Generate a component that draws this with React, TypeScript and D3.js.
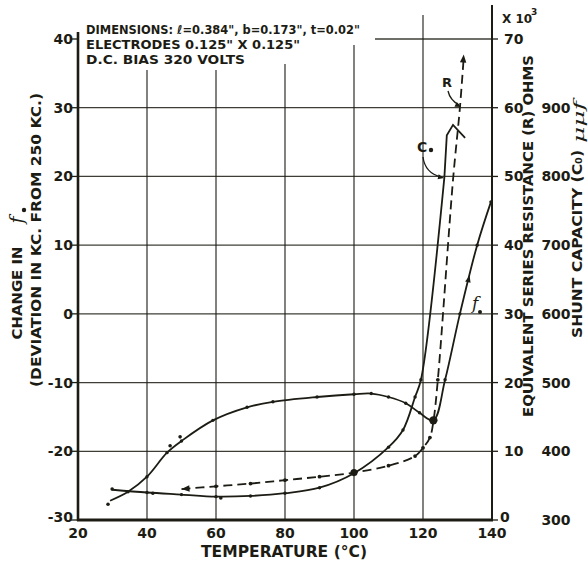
import React from 'react';
import * as d3 from 'd3';

// ---------- data ----------
const xTicks = [20, 40, 60, 80, 100, 120, 140];
const leftTicks = [-30, -20, -10, 0, 10, 20, 30, 40];
const rTicks = [0, 10, 20, 30, 40, 50, 60, 70];
const cTicks = [300, 400, 500, 600, 700, 800, 900];

// change in f0 (kc) vs temperature
const f0Temp = [29.3, 34.5, 40, 45.8, 50, 59.1, 69, 76.5, 89.3, 100, 105, 110, 115, 119, 123, 126.4, 130.7, 135.7, 139.7];
const f0Dev = [-27.2, -25.9, -23.7, -20.2, -18.5, -15.5, -13.6, -12.8, -12.1, -11.7, -11.6, -12.1, -13.0, -14.4, -15.5, -9.6, 0, 10, 16.3];
const f0ExtraTemp = [28.7, 46.7, 49.6];
const f0ExtraDev = [-27.7, -19.2, -17.9];

// shunt capacity C0 (uuf)
const c0Temp = [30, 40, 50, 60, 70, 80, 90, 100, 110, 114.2, 117.7, 119.4, 126.2, 126.9, 128.7, 132.2];
const c0Cap = [344, 340, 337, 334, 335, 339, 347, 368, 406, 431, 479, 504, 799, 860, 875, 856];
const c0ExtraTemp = [29.9, 41.7, 61.4];
const c0ExtraCap = [345, 339, 332];

// equivalent series resistance R (x10^3 ohms)
const rTemp = [50, 60, 70, 80, 90, 100, 110, 117.7, 120, 122, 123, 124.3, 128.7, 130.7, 131.8];
const rOhm = [4.5, 4.9, 5.3, 5.8, 6.3, 6.9, 7.9, 9.3, 10.5, 12.0, 14.3, 20.4, 49.5, 60, 67.3];

// ---------- layout ----------
const W = 588, H = 562;
const INK = '#1c1c14';
const FONT = "'DejaVu Sans', sans-serif";

const x = d3.scaleLinear().domain([20, 140]).range([78, 492]);
const yL = d3.scaleLinear().domain([-30, 40]).range([520, 39]);
const yR = d3.scaleLinear().domain([0, 70]).range([520, 39]);
const yC = d3.scaleLinear().domain([300, 1000]).range([520, 39]);

function arrowHead(px: number, py: number, dx: number, dy: number, size = 8, w = 3.2) {
  const len = Math.hypot(dx, dy);
  const ux = dx / len, uy = dy / len;
  const bx = px - ux * size, by = py - uy * size;
  return `M${px},${py}L${bx - uy * w},${by + ux * w}L${bx + uy * w},${by - ux * w}Z`;
}

export default function App() {
  const zip = (a: number[], b: number[]) => a.map((v, i) => [v, b[i]] as [number, number]);
  const f0Pts = zip(f0Temp, f0Dev);
  const c0Pts = zip(c0Temp, c0Cap);
  const rPts = zip(rTemp, rOhm);

  const mk = (sy: d3.ScaleLinear<number, number>, curve: d3.CurveFactory = d3.curveCatmullRom.alpha(0.5)) =>
    d3.line<[number, number]>().x(d => x(d[0])).y(d => sy(d[1])).curve(curve);

  const f0Path = mk(yL)(f0Pts) || '';
  const c0Path = (mk(yC)(c0Pts.slice(0, 13)) || '') + (mk(yC, d3.curveLinear)(c0Pts.slice(12)) || '').replace(/^M/, 'L');
  const rPath = mk(yR)(rPts) || '';

  const vTop: Record<number, number> = { 40: 70, 60: 70, 80: 64, 100: 45, 120: 15 };

  // arrows
  const rStartArrow = arrowHead(x(rTemp[0]), yR(rOhm[0]), x(rTemp[0]) - x(rTemp[1]), yR(rOhm[0]) - yR(rOhm[1]));
  const nR = rTemp.length;
  const rEndArrow = arrowHead(x(rTemp[nR - 1]), yR(rOhm[nR - 1]) - 3, x(rTemp[nR - 1]) - x(rTemp[nR - 2]), yR(rOhm[nR - 1]) - yR(rOhm[nR - 2]));
  const fa = 16, fb = 17;
  const fx = x((f0Temp[fa] + f0Temp[fb]) / 2 + 0.3), fy = yL((f0Dev[fa] + f0Dev[fb]) / 2 + 0.6);
  const f0Arrow = arrowHead(fx, fy, x(f0Temp[fb]) - x(f0Temp[fa]), yL(f0Dev[fb]) - yL(f0Dev[fa]), 7, 2.8);

  const bold = { fontFamily: FONT, fontWeight: 700, fill: INK } as const;

  return (
    <svg width={W} height={H} style={{ position: 'absolute', left: 0, top: 0, background: '#fff' }}>
      <rect width={W} height={H} fill="#fff" />
      {/* grid */}
      <g stroke={INK} strokeWidth={1.3} strokeOpacity={0.85}>
        {[40, 60, 80, 100, 120].map(t => (
          <line key={'v' + t} x1={x(t)} x2={x(t)} y1={vTop[t]} y2={520} />
        ))}
        {[-20, -10, 0, 10, 20, 30].map(v => (
          <line key={'h' + v} x1={78} x2={492} y1={yL(v)} y2={yL(v)} />
        ))}
        <line x1={375} x2={492} y1={yR(70)} y2={yR(70)} />
      </g>
      {/* axes */}
      <line x1={78} x2={78} y1={32} y2={521} stroke={INK} strokeWidth={2.6} />
      <line x1={77} x2={493} y1={520} y2={520} stroke={INK} strokeWidth={3.2} />
      <line x1={492} x2={492} y1={5} y2={521} stroke={INK} strokeWidth={2} />
      {leftTicks.map(v => (
        <line key={'lt' + v} x1={71} x2={78} y1={yL(v)} y2={yL(v)} stroke={INK} strokeWidth={1.3} />
      ))}
      {rTicks.map(v => (
        <line key={'rt' + v} x1={492} x2={498} y1={yR(v)} y2={yR(v)} stroke={INK} strokeWidth={1.3} />
      ))}

      {/* tick labels */}
      <g {...bold} fontSize={14}>
        {xTicks.map(t => (
          <text key={'xl' + t} x={x(t)} y={538} textAnchor="middle">{t}</text>
        ))}
        {leftTicks.map(v => (
          <text key={'ll' + v} x={73} y={v === -30 ? 522 : yL(v) + 5} textAnchor="end">{v}</text>
        ))}
        {rTicks.map(v => (
          <text key={'rl' + v} x={v === 0 ? 500 : 504} y={v === 0 ? 522 : yR(v) + 5} textAnchor="start">{v}</text>
        ))}
        {cTicks.map(v => (
          <text key={'cl' + v} x={556} y={yC(v) + 5} textAnchor="middle">{v}</text>
        ))}
      </g>
      <text {...bold} x={502} y={23} fontSize={12}>X 10</text>
      <text {...bold} x={531} y={15} fontSize={9}>3</text>

      {/* curves */}
      <path d={c0Path} fill="none" stroke={INK} strokeWidth={1.8} strokeLinejoin="miter" />
      <path d={f0Path} fill="none" stroke={INK} strokeWidth={1.8} />
      <path d={rPath} fill="none" stroke={INK} strokeWidth={1.8} strokeDasharray="9,5" />

      {/* markers */}
      <g fill={INK}>
        {f0Pts.slice(1, 14).concat(f0Pts.slice(15)).map((d, i) => (
          <circle key={'fd' + i} cx={x(d[0])} cy={yL(d[1])} r={1.7} />
        ))}
        {f0ExtraTemp.map((t, i) => (
          <circle key={'fe' + i} cx={x(t)} cy={yL(f0ExtraDev[i])} r={1.8} />
        ))}
        {c0Pts.slice(1, 12).map((d, i) => (
          <circle key={'cd' + i} cx={x(d[0])} cy={yC(d[1])} r={1.7} />
        ))}
        {c0ExtraTemp.map((t, i) => (
          <circle key={'ce' + i} cx={x(t)} cy={yC(c0ExtraCap[i])} r={1.8} />
        ))}
        {rPts.slice(1, 12).map((d, i) => (
          <circle key={'rd' + i} cx={x(d[0])} cy={yR(d[1])} r={1.9} />
        ))}
        <circle cx={x(rTemp[5])} cy={yR(rOhm[5])} r={3.6} />
        <circle cx={x(f0Temp[14])} cy={yL(f0Dev[14])} r={4.2} />
        <path d={rStartArrow} />
        <path d={rEndArrow} />
        <path d={f0Arrow} />
      </g>

      {/* curve labels */}
      <text {...bold} x={442} y={87} fontSize={13}>R</text>
      <path d="M448,91 Q450,100 459,105" fill="none" stroke={INK} strokeWidth={1.3} />
      <path d={arrowHead(461, 107, 10, 5, 6, 2.6)} fill={INK} />
      <text {...bold} x={417} y={152} fontSize={14}>C</text>
      <circle cx={431} cy={150} r={2.2} fill={INK} />
      <path d="M423,157 Q425,173 441,177" fill="none" stroke={INK} strokeWidth={1.3} />
      <path d={arrowHead(444, 178, 10, 2, 6, 2.6)} fill={INK} />
      <text x={472} y={309} fontSize={17} fontStyle="italic" fontFamily="'DejaVu Serif', serif" fill={INK}>f</text>
      <circle cx={480} cy={312} r={2} fill={INK} />

      {/* annotations */}
      <g {...bold} fontSize={12}>
        <text x={86} y={34} textLength={274} lengthAdjust="spacingAndGlyphs">DIMENSIONS: ℓ=0.384", b=0.173", t=0.02"</text>
        <text x={86} y={49} textLength={214} lengthAdjust="spacingAndGlyphs">ELECTRODES  0.125"  X  0.125"</text>
        <text x={86} y={64} textLength={159} lengthAdjust="spacingAndGlyphs">D.C. BIAS  320 VOLTS</text>
      </g>

      {/* axis titles */}
      <text {...bold} fontSize={15} x={0} y={0} textAnchor="middle" transform="translate(284,557)"
        textLength={166} lengthAdjust="spacingAndGlyphs">TEMPERATURE (°C)</text>
      <text {...bold} fontSize={14} textAnchor="middle" dominantBaseline="central"
        transform="translate(17,293) rotate(-90)" textLength={93} lengthAdjust="spacingAndGlyphs">CHANGE IN</text>
      <g transform="translate(17,216) rotate(-90)">
        <text x={-4} y={6} fontSize={19} fontStyle="italic" fontFamily="'DejaVu Serif', serif" fill={INK} textAnchor="middle">f</text>
        <circle cx={6} cy={7} r={2.2} fill={INK} />
      </g>
      <text {...bold} fontSize={14} textAnchor="middle" dominantBaseline="central"
        transform="translate(36,240) rotate(-90)" textLength={294} lengthAdjust="spacingAndGlyphs">(DEVIATION IN KC. FROM 250 KC.)</text>
      <text {...bold} fontSize={14} textAnchor="middle" dominantBaseline="central"
        transform="translate(528,236) rotate(-90)" textLength={362} lengthAdjust="spacingAndGlyphs">EQUIVALENT SERIES RESISTANCE (R) OHMS</text>
      <text {...bold} fontSize={14} textAnchor="middle" dominantBaseline="central"
        transform="translate(577,244) rotate(-90)" textLength={188} lengthAdjust="spacingAndGlyphs">SHUNT CAPACITY (C₀)</text>
      <text fontSize={15} fontStyle="italic" fontFamily="'DejaVu Serif', serif" fill={INK} textAnchor="middle" dominantBaseline="central"
        transform="translate(579,122) rotate(-90)" textLength={42} lengthAdjust="spacingAndGlyphs">μμf</text>
    </svg>
  );
}
